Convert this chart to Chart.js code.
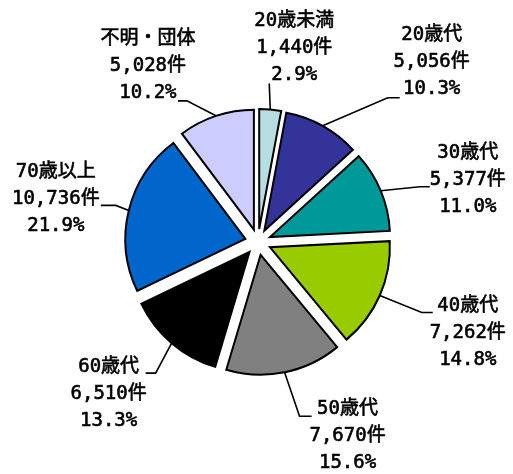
<!DOCTYPE html>
<html>
<head>
<meta charset="utf-8">
<script src="https://cdn.jsdelivr.net/npm/chart.js@4"></script>
<style>
  html, body { margin: 0; padding: 0; background: #ffffff; }
  #c { display: block; }
</style>
</head>
<body>
<canvas id="c" width="513" height="474"></canvas>
<script>
// ---- data ----
const categories = ['20歳未満', '20歳代', '30歳代', '40歳代', '50歳代', '60歳代', '70歳以上', '不明・団体'];
const counts = [1440, 5056, 5377, 7262, 7670, 6510, 10736, 5028];
const unitLabel = '件';

// ---- style ----
const colors = ['#B6DEE0', '#333399', '#009999', '#99CC00', '#808080', '#000000', '#0066CC', '#CCCCFF'];
const EXPLODE = 13;
const LINE_H = 27;
const FONT = '19px "DejaVu Sans Mono", "Noto Sans CJK JP", sans-serif';
// label block offset from slice edge point (centre x, first line y)
const labelOffset = [[24,-89],[109,-91],[87,-38],[88,11],[63,37],[-63,24],[-73,-38],[-68,-77]];
// leader line end relative to label anchor
const leaderEnd = [[-25,63],[-32,63],[-38,34],[-35,6],[-36,7],[37,6],[45,33],[30,62]];
// horizontal elbow length of the leader line
const elbow = [0,-12,-10,-11,-12,10,15,9];

const total = counts.reduce((a, b) => a + b, 0);
const fmt = n => n.toLocaleString('en-US');

const explodePlugin = {
  id: 'explode',
  beforeDatasetDraw(chart, args) {
    const ctx = chart.ctx;
    args.meta.data.forEach(arc => {
      const mid = (arc.startAngle + arc.endAngle) / 2;
      ctx.save();
      ctx.translate(Math.cos(mid) * EXPLODE, Math.sin(mid) * EXPLODE);
      arc.draw(ctx, chart.chartArea);
      ctx.restore();
    });
    return false;
  }
};

const labelPlugin = {
  id: 'pieLabels',
  afterDraw(chart) {
    const ctx = chart.ctx;
    const meta = chart.getDatasetMeta(0);
    ctx.save();
    meta.data.forEach((arc, i) => {
      const mid = (arc.startAngle + arc.endAngle) / 2;
      const R = arc.outerRadius + EXPLODE;
      const ex = arc.x + Math.cos(mid) * R;
      const ey = arc.y + Math.sin(mid) * R;
      const lx = ex + labelOffset[i][0];
      const ly = ey + labelOffset[i][1];
      const px = lx + leaderEnd[i][0];
      const py = ly + leaderEnd[i][1];
      const qx = px + elbow[i];
      // leader
      ctx.strokeStyle = '#000000';
      ctx.lineWidth = 1.6;
      ctx.lineJoin = 'miter';
      ctx.beginPath();
      ctx.moveTo(ex, ey);
      ctx.lineTo(qx, py);
      ctx.lineTo(px, py);
      ctx.stroke();
      // text
      const pct = (counts[i] / total * 100).toFixed(1) + '%';
      const lines = [categories[i], fmt(counts[i]) + unitLabel, pct];
      ctx.fillStyle = '#000000';
      ctx.strokeStyle = '#000000';
      ctx.lineWidth = 0.6;
      ctx.font = FONT;
      ctx.textAlign = 'center';
      ctx.textBaseline = 'middle';
      lines.forEach((t, k) => {
        ctx.fillText(t, lx, ly + k * LINE_H);
        ctx.strokeText(t, lx, ly + k * LINE_H);
      });
    });
    ctx.restore();
  }
};

new Chart(document.getElementById('c'), {
  type: 'pie',
  data: {
    labels: categories,
    datasets: [{
      data: counts,
      backgroundColor: colors,
      borderColor: '#000000',
      borderWidth: 2,
      borderJoinStyle: 'miter',
      offset: 0,
      hoverOffset: 0
    }]
  },
  options: {
    responsive: false,
    devicePixelRatio: 1,
    animation: false,
    events: [],
    layout: { padding: { left: 137, right: 134, top: 121, bottom: 111 } },
    plugins: {
      legend: { display: false },
      tooltip: { enabled: false }
    }
  },
  plugins: [explodePlugin, labelPlugin]
});
</script>
</body>
</html>
